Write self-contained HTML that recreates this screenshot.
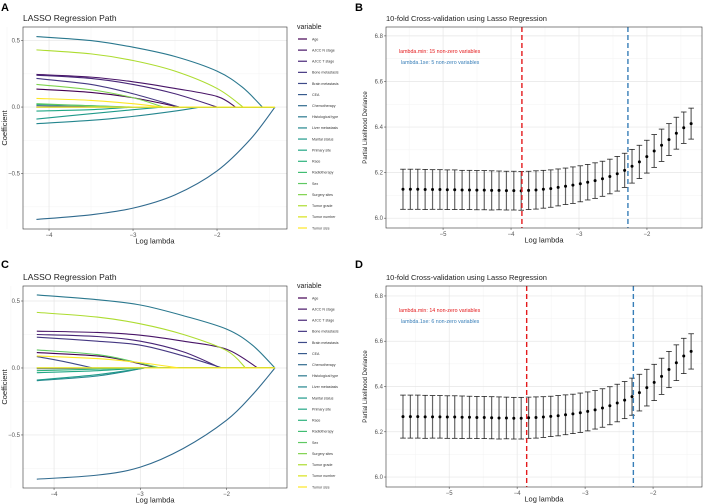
<!DOCTYPE html>
<html><head><meta charset="utf-8"><style>
body{margin:0;background:#fff;width:708px;height:504px;overflow:hidden;font-family:"Liberation Sans",sans-serif}
svg{display:block}
</style></head><body>
<svg id="fig" width="708" height="504" viewBox="0 0 708 504" xmlns="http://www.w3.org/2000/svg"></svg>
<script>
// ---------- data ----------
const legendLabels = ["Age","AJCC N stage","AJCC T stage","Bone metastasis","Brain metastasis","CEA","Chemotherapy","Histological type","Liver metastasis","Marital status","Primary site","Race","Radiotherapy","Sex","Surgery sites","Tumor grade","Tumor number","Tumor size"];
const varColors = ["#440154","#481467","#482677","#453882","#3e4a89","#375b8d","#306a8e","#2a788e","#24868e","#1f9a8a","#22a785","#2db27d","#40bd72","#5ec962","#7fd34e","#addc30","#d8e219","#fde725"];
// path keypoints per variable: [logLambda, coef]
const pathsA = [
 [[-4.15,0.135],[-3.5,0.11],[-3,0.07],[-2.45,0]],
 [[-4.15,0.245],[-3.5,0.225],[-3,0.19],[-2.5,0.14],[-2,0.08],[-1.78,0]],
 [[-4.15,0.24],[-3.5,0.215],[-3,0.17],[-2.5,0.1],[-2,0]],
 [[-4.15,0.215],[-3.5,0.17],[-3,0.1],[-2.45,0]],
 [[-4.15,0.0],[-3,0]],
 [[-4.15,0.01],[-3.2,0]],
 [[-4.15,-0.845],[-3.5,-0.81],[-3,-0.76],[-2.5,-0.66],[-2,-0.48],[-1.6,-0.24],[-1.31,0]],
 [[-4.15,0.53],[-3.5,0.5],[-3,0.45],[-2.5,0.38],[-2,0.27],[-1.7,0.15],[-1.46,0]],
 [[-4.15,-0.125],[-3.5,-0.1],[-3,-0.07],[-2.5,-0.03],[-2.2,0]],
 [[-4.15,-0.09],[-3.5,-0.05],[-3,-0.02],[-2.65,0]],
 [[-4.15,-0.03],[-3.5,-0.02],[-3,0]],
 [[-4.15,0.02],[-3.5,0.01],[-3,0]],
 [[-4.15,0.0],[-3,0]],
 [[-4.15,0.025],[-3.6,0.012],[-3.1,0]],
 [[-4.15,0.17],[-3.5,0.13],[-3,0.07],[-2.64,0]],
 [[-4.15,0.43],[-3.5,0.4],[-3,0.35],[-2.5,0.27],[-2,0.14],[-1.69,0]],
 [[-4.15,0.0],[-3,0]],
 [[-4.15,0.065],[-3.5,0.05],[-3,0.025],[-2.65,0]]
];
const pathsC = [
 [[-4.2,0.115],[-3.5,0.09],[-3.2,0.06],[-2.8,0]],
 [[-4.2,0.275],[-3.5,0.265],[-3,0.245],[-2.5,0.2],[-2,0.14],[-1.64,0]],
 [[-4.2,0.25],[-3.5,0.235],[-3,0.2],[-2.5,0.12],[-2.07,0]],
 [[-4.2,0.23],[-3.5,0.2],[-3,0.17],[-2.5,0.09],[-2.05,0]],
 [[-4.2,0.085],[-3.9,0.05],[-3.55,0]],
 [[-4.2,-0.005],[-3,0]],
 [[-4.2,-0.83],[-3.5,-0.8],[-3,-0.74],[-2.5,-0.6],[-2,-0.39],[-1.7,-0.2],[-1.44,0]],
 [[-4.2,0.545],[-3.5,0.51],[-3,0.47],[-2.5,0.39],[-2,0.29],[-1.7,0.17],[-1.44,0]],
 [[-4.2,-0.095],[-3.5,-0.06],[-2.95,0]],
 [[-4.2,-0.09],[-3.5,-0.05],[-2.95,0]],
 [[-4.2,-0.035],[-3.5,-0.02],[-3,0]],
 [[-4.2,-0.02],[-3,0]],
 [[-4.2,0.0],[-3,0]],
 [[-4.2,0.135],[-3.5,0.1],[-3.1,0.05],[-2.77,0]],
 [[-4.2,0.0],[-3,0]],
 [[-4.2,0.415],[-3.5,0.38],[-3,0.33],[-2.5,0.25],[-2,0.13],[-1.78,0]],
 [[-4.2,0.0],[-3,0]],
 [[-4.2,0.09],[-3.5,0.07],[-3,0.04],[-2.55,0]]
];

const cvLambdaB = {start:-5.59, end:-1.35};
const cvMeanB = [6.127,6.127,6.127,6.126,6.126,6.126,6.125,6.125,6.124,6.124,6.123,6.123,6.122,6.122,6.121,6.121,6.120,6.122,6.124,6.127,6.13,6.135,6.14,6.145,6.151,6.158,6.165,6.173,6.183,6.195,6.21,6.228,6.247,6.27,6.295,6.32,6.345,6.373,6.397,6.415];
const cvSeB = [0.088,0.088,0.088,0.088,0.087,0.087,0.087,0.087,0.086,0.086,0.086,0.086,0.086,0.085,0.085,0.085,0.085,0.084,0.084,0.083,0.082,0.081,0.080,0.080,0.079,0.078,0.078,0.077,0.076,0.076,0.075,0.074,0.073,0.072,0.072,0.071,0.070,0.070,0.069,0.068];
const cvMinB = -3.84, cv1seB = -2.28;
const cvNzB = ["lambda.min: 15 non-zero variables","lambda.1se: 5 non-zero variables"];

const cvLambdaD = {start:-5.68, end:-1.44};
const cvMeanD = [6.267,6.267,6.267,6.266,6.266,6.266,6.265,6.265,6.264,6.264,6.263,6.263,6.262,6.261,6.261,6.26,6.26,6.262,6.263,6.265,6.268,6.271,6.275,6.279,6.284,6.29,6.297,6.305,6.315,6.327,6.34,6.355,6.373,6.395,6.418,6.445,6.475,6.505,6.535,6.555];
const cvSeD = [0.095,0.095,0.095,0.095,0.094,0.094,0.094,0.094,0.094,0.093,0.093,0.093,0.093,0.093,0.092,0.092,0.092,0.091,0.091,0.090,0.089,0.089,0.088,0.087,0.087,0.086,0.085,0.085,0.084,0.083,0.082,0.082,0.081,0.081,0.080,0.080,0.080,0.079,0.078,0.078];
const cvMinD = -3.86, cv1seD = -2.29;
const cvNzD = ["lambda.min: 14 non-zero variables","lambda.1se: 6 non-zero variables"];

// ---------- drawing ----------
const NS="http://www.w3.org/2000/svg";
const svg=document.getElementById('fig');
function el(tag,attrs,parent,text){const e=document.createElementNS(NS,tag);for(const k in attrs)e.setAttribute(k,attrs[k]);if(text!==undefined)e.textContent=text;(parent||svg).appendChild(e);return e;}
function scale(d0,d1,r0,r1){return v=>r0+(v-d0)/(d1-d0)*(r1-r0);}
function smoothPath(pts){
  if(pts.length<2)return "";
  let d="M"+pts[0][0]+","+pts[0][1];
  for(let i=0;i<pts.length-1;i++){
    const p0=pts[Math.max(i-1,0)],p1=pts[i],p2=pts[i+1],p3=pts[Math.min(i+2,pts.length-1)];
    const c1=[p1[0]+(p2[0]-p0[0])/6,p1[1]+(p2[1]-p0[1])/6];
    const c2=[p2[0]-(p3[0]-p1[0])/6,p2[1]-(p3[1]-p1[1])/6];
    d+=" C"+c1[0]+","+c1[1]+" "+c2[0]+","+c2[1]+" "+p2[0]+","+p2[1];
  }
  return d;
}
function panelFrame(g,box,xs,ys,xTicks,yTicks,xMinor,yMinor,yFmt,yLabel,title,letter,lx,ly,lxLetter){
  el('rect',{x:box.x0,y:box.y0,width:box.x1-box.x0,height:box.y1-box.y0,fill:'#fff'},g);
  xMinor.forEach(v=>el('line',{x1:xs(v),x2:xs(v),y1:box.y0,y2:box.y1,stroke:'#f3f3f3','stroke-width':0.5},g));
  yMinor.forEach(v=>el('line',{y1:ys(v),y2:ys(v),x1:box.x0,x2:box.x1,stroke:'#f3f3f3','stroke-width':0.5},g));
  xTicks.forEach(v=>{el('line',{x1:xs(v),x2:xs(v),y1:box.y0,y2:box.y1,stroke:'#e6e6e6','stroke-width':0.7},g);
    el('line',{x1:xs(v),x2:xs(v),y1:box.y1,y2:box.y1+2,stroke:'#555','stroke-width':0.6},g);
    const t=el('text',{x:xs(v),y:box.y1+8,'text-anchor':'middle','font-size':6,fill:'#555'},g,(v<0?'\u2212':'')+Math.abs(v));
    });
  yTicks.forEach(v=>{el('line',{y1:ys(v),y2:ys(v),x1:box.x0,x2:box.x1,stroke:'#e6e6e6','stroke-width':0.7},g);
    el('line',{y1:ys(v),y2:ys(v),x1:box.x0-2,x2:box.x0,stroke:'#555','stroke-width':0.6},g);
    const t=el('text',{x:box.x0-3,y:ys(v)+2,'text-anchor':'end','font-size':6,fill:'#555'},g,yFmt(v));
    });
  const xl=el('text',{x:(box.x0+box.x1)/2,y:box.y1+14.5,'text-anchor':'middle','font-size':7.5,fill:'#222'},g,'Log lambda');
  
  const yx=lx, yy=(box.y0+box.y1)/2;
  const yl=el('text',{x:yx,y:yy,'text-anchor':'middle','font-size':yLabel.length>15?6:7.5,fill:'#222',transform:`rotate(-90 ${yx} ${yy})`},g,yLabel);
  
  const tt=el('text',{x:box.x0,y:box.y0-6,'font-size':title.length>25?7.5:8.5,fill:'#222'},g,title);
  
  const lt=el('text',{x:lxLetter,y:ly,'font-size':11,'font-weight':'bold',fill:'#000'},g,letter);
  
}
function drawPathPanel(name,paths,box,xd,yd,xTicks,letter,ly,legFirst,legLast){
  const g=el('g',{});
  const xs=scale(xd[0],xd[1],box.x0,box.x1), ys=scale(yd[0],yd[1],box.y1,box.y0);
  panelFrame(g,box,xs,ys,xTicks,[-0.5,0,0.5],[xTicks[0]-0.5,...xTicks.map(v=>v+0.5)],[-0.75,-0.25,0.25],
    v=>v==0?'0.0':(v<0?'\u2212':'')+Math.abs(v).toFixed(1),'Coefficient','LASSO Regression Path',letter,7,ly,1);
  const last=paths.map(p=>p[p.length-1][0]).reduce((a,b)=>Math.max(a,b));
  paths.forEach((p,i)=>{
    const pts=p.map(q=>[xs(q[0]),ys(q[1])]);
    const path=el('path',{d:smoothPath(pts),fill:'none',stroke:varColors[i],'stroke-width':1.1},g);
    
    
    el('line',{x1:pts[pts.length-1][0],x2:xs(last),y1:ys(0),y2:ys(0),stroke:varColors[i],'stroke-width':1.1},g);
  });
  el('line',{x1:xs(paths[0][0][0]),x2:xs(last),y1:ys(0),y2:ys(0),stroke:varColors[17],'stroke-width':1.1},g);
  el('rect',{x:box.x0,y:box.y0,width:box.x1-box.x0,height:box.y1-box.y0,fill:'none',stroke:'#333','stroke-width':0.6},g);
  // legend
  const lg=el('g',{},g);
  const lt=el('text',{x:297,y:legFirst-10,'font-size':7,fill:'#222'},lg,'variable');
  
  const n=legendLabels.length, sp=(legLast-legFirst)/(n-1);
  for(let i=0;i<n;i++){
    const y=legFirst+i*sp;
    const e=el('g',{},lg);
    el('line',{x1:298,x2:307,y1:y,y2:y,stroke:varColors[i],'stroke-width':1.2},e);
    el('text',{x:312,y:y+1.3,'font-size':3.6,fill:'#333'},e,legendLabels[i]);
  }
}
function drawCvPanel(name,lam,mean,se,lmin,l1se,nz,box,xd,yd,letter,ly){
  const g=el('g',{});
  const xs=scale(xd[0],xd[1],box.x0,box.x1), ys=scale(yd[0],yd[1],box.y1,box.y0);
  panelFrame(g,box,xs,ys,[-5,-4,-3,-2],[6.0,6.2,6.4,6.6,6.8],[-5.5,-4.5,-3.5,-2.5,-1.5],[6.1,6.3,6.5,6.7],
    v=>v.toFixed(1),'Partial Likelihood Deviance','10-fold Cross-validation using Lasso Regression',letter,box.x0-19,ly,355);
  const n=mean.length, step=(lam.end-lam.start)/(n-1);
  for(let i=0;i<n;i++){
    const x=xs(lam.start+i*step), yt=ys(mean[i]+se[i]), yb=ys(mean[i]-se[i]);
    const eb=el('g',{},g);
    el('line',{x1:x,x2:x,y1:yt,y2:yb,stroke:'#666','stroke-width':1.2},eb);
    el('line',{x1:x-2.8,x2:x+2.8,y1:yt,y2:yt,stroke:'#222','stroke-width':0.8},eb);
    el('line',{x1:x-2.8,x2:x+2.8,y1:yb,y2:yb,stroke:'#222','stroke-width':0.8},eb);
    const c=el('circle',{cx:x,cy:ys(mean[i]),r:1.5,fill:'#000'},g);
    
  }
  const rl=el('line',{x1:xs(lmin),x2:xs(lmin),y1:box.y0,y2:box.y1,stroke:'#e41a1c','stroke-width':1.4,'stroke-dasharray':'5,3'},g);
  
  const bl=el('line',{x1:xs(l1se),x2:xs(l1se),y1:box.y0,y2:box.y1,stroke:'#377eb8','stroke-width':1.4,'stroke-dasharray':'5,3'},g);
  
  const a1=el('text',{x:box.x0+13,y:box.y0+26,'font-size':5.3,fill:'#e41a1c'},g,nz[0]);
  
  const a2=el('text',{x:box.x0+15,y:box.y0+37,'font-size':5.3,fill:'#377eb8'},g,nz[1]);
  
  el('rect',{x:box.x0,y:box.y0,width:box.x1-box.x0,height:box.y1-box.y0,fill:'none',stroke:'#333','stroke-width':0.6},g);
}
drawPathPanel('panel-a-lasso-path',pathsA,{x0:23,x1:287,y0:27,y1:229},[-4.31,-1.167],[-0.917,0.602],[-4,-3,-2],'A',11,39,228);
drawPathPanel('panel-c-lasso-path',pathsC,{x0:23,x1:287,y0:286,y1:488},[-4.36,-1.30],[-0.896,0.612],[-4,-3,-2],'C',268,298,487);
drawCvPanel('panel-b-cv',cvLambdaB,cvMeanB,cvSeB,cvMinB,cv1seB,cvNzB,{x0:386,x1:702,y0:27,y1:228},[-5.84,-1.19],[5.957,6.839],'B',11);
drawCvPanel('panel-d-cv',cvLambdaD,cvMeanD,cvSeD,cvMinD,cv1seD,cvNzD,{x0:386,x1:702,y0:286,y1:487},[-5.93,-1.28],[5.956,6.844],'D',268);
</script>
</body></html>
